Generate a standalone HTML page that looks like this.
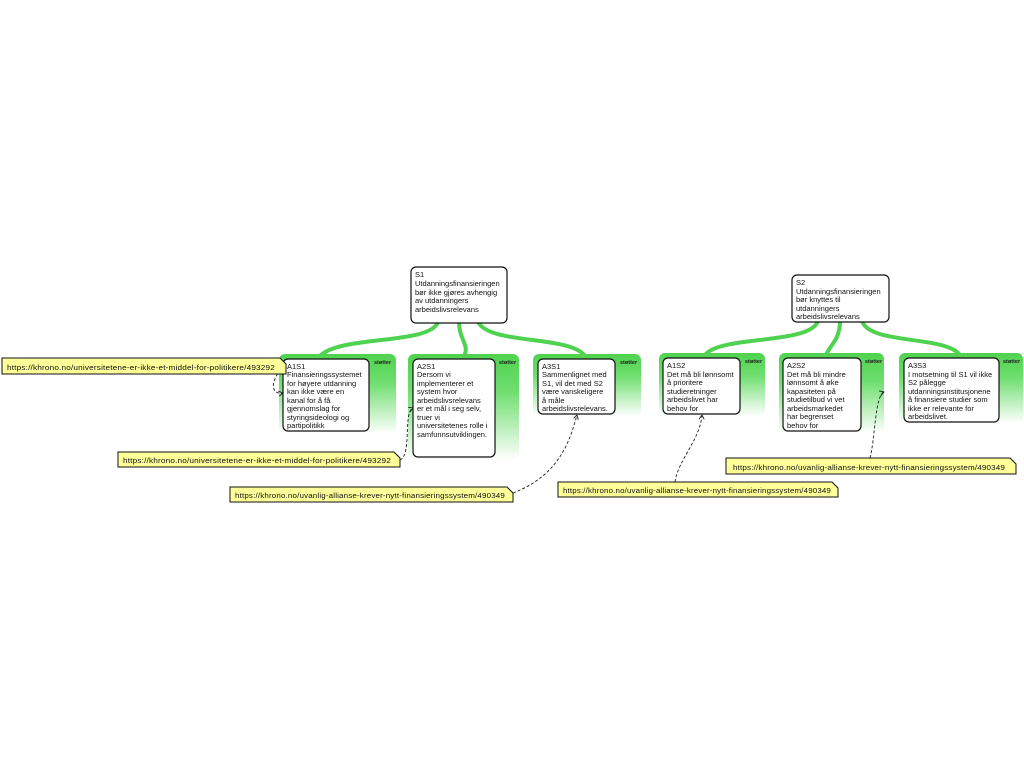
<!DOCTYPE html>
<html><head><meta charset="utf-8"><style>
html,body{margin:0;padding:0;background:#fff;width:1024px;height:768px;overflow:hidden}
svg text{font-family:"Liberation Sans",sans-serif}
.bt{font-size:7.5px;fill:#111}
.nt{font-size:7.6px;fill:#111;letter-spacing:0.15px}
.st{font-size:5.5px;fill:#222;font-weight:bold}
</style></head><body>
<svg width="1024" height="768" xmlns="http://www.w3.org/2000/svg">
<defs>
<linearGradient id="g" x1="0" y1="0" x2="0" y2="1">
<stop offset="0" stop-color="#4fd24f"/><stop offset="0.35" stop-color="#6ede6e"/><stop offset="1" stop-color="#ffffff"/>
</linearGradient>
<marker id="ar" markerWidth="6" markerHeight="6" refX="5" refY="3" orient="auto"><path d="M0,0 L5,3 L0,6" fill="none" stroke="#222" stroke-width="1"/></marker>
</defs>
<g fill="none" stroke="#4fd24f" stroke-width="4">
<path d="M438,322 C430,345 340,335 320,356"/>
<path d="M459,322 C459,340 470,345 464,356"/>
<path d="M478,322 C490,345 570,335 585,356"/>
<path d="M818,321 C810,345 720,335 705,355"/>
<path d="M840,321 C840,340 830,345 826,355"/>
<path d="M862,321 C870,345 945,335 960,355"/>
</g>
<g fill="url(#g)">
<rect x="279" y="354" width="117" height="80" rx="6"/>
<rect x="408" y="354" width="111" height="106" rx="6"/>
<rect x="533" y="354" width="108" height="62" rx="6"/>
<rect x="659" y="353" width="106" height="63" rx="6"/>
<rect x="779" y="353" width="105" height="80" rx="6"/>
<rect x="899" y="353" width="124" height="70" rx="6"/>
</g>
<g class="st">
<text x="374" y="364">støtter</text><text x="499" y="364">støtter</text><text x="620" y="364">støtter</text>
<text x="745" y="363">støtter</text><text x="865" y="363">støtter</text><text x="1003" y="363">støtter</text>
</g>
<g fill="#fff" stroke="#111" stroke-width="1.2">
<rect x="411" y="267" width="96" height="56" rx="5"/>
<rect x="792" y="275" width="97" height="47" rx="5"/>
<rect x="283" y="359" width="86" height="72" rx="5"/>
<rect x="413" y="359" width="82" height="98" rx="5"/>
<rect x="538" y="359" width="77" height="55" rx="5"/>
<rect x="663" y="358" width="77" height="56" rx="5"/>
<rect x="783" y="358" width="78" height="73" rx="5"/>
<rect x="904" y="358" width="95" height="64" rx="5"/>
</g>
<g class="bt">
<text x="415" y="277">S1</text><text x="415" y="286">Utdanningsfinansieringen</text><text x="415" y="295">bør ikke gjøres avhengig</text><text x="415" y="303">av utdanningers</text><text x="415" y="312">arbeidslivsrelevans</text>
<text x="796" y="285">S2</text><text x="796" y="294">Utdanningsfinansieringen</text><text x="796" y="302">bør knyttes til</text><text x="796" y="311">utdanningers</text><text x="796" y="319">arbeidslivsrelevans</text>
<text x="287" y="369">A1S1</text><text x="287" y="377">Finansieringssystemet</text><text x="287" y="386">for høyere utdanning</text><text x="287" y="394">kan ikke være en</text><text x="287" y="403">kanal for å få</text><text x="287" y="411">gjennomslag for</text><text x="287" y="420">styringsideologi og</text><text x="287" y="428">partipolitikk</text>
<text x="417" y="369">A2S1</text><text x="417" y="377">Dersom vi</text><text x="417" y="386">implementerer et</text><text x="417" y="394">system hvor</text><text x="417" y="403">arbeidslivsrelevans</text><text x="417" y="411">er et mål i seg selv,</text><text x="417" y="420">truer vi</text><text x="417" y="428">universitetenes rolle i</text><text x="417" y="437">samfunnsutviklingen.</text>
<text x="542" y="369">A3S1</text><text x="542" y="377">Sammenlignet med</text><text x="542" y="386">S1, vil det med S2</text><text x="542" y="394">være vanskeligere</text><text x="542" y="403">å måle</text><text x="542" y="411">arbeidslivsrelevans.</text>
<text x="667" y="368">A1S2</text><text x="667" y="377">Det må bli lønnsomt</text><text x="667" y="385">å prioritere</text><text x="667" y="394">studieretninger</text><text x="667" y="402">arbeidslivet har</text><text x="667" y="411">behov for</text>
<text x="787" y="368">A2S2</text><text x="787" y="377">Det må bli mindre</text><text x="787" y="385">lønnsomt å øke</text><text x="787" y="394">kapasiteten på</text><text x="787" y="402">studietilbud vi vet</text><text x="787" y="411">arbeidsmarkedet</text><text x="787" y="419">har begrenset</text><text x="787" y="428">behov for</text>
<text x="908" y="368">A3S3</text><text x="908" y="377">I motsetning til S1 vil ikke</text><text x="908" y="385">S2 pålegge</text><text x="908" y="394">utdanningsinstitusjonene</text><text x="908" y="402">å finansiere studier som</text><text x="908" y="411">ikke er relevante for</text><text x="908" y="419">arbeidslivet.</text>
</g>
<g fill="none" stroke="#222" stroke-width="0.9" stroke-dasharray="3,2" marker-end="url(#ar)">
<path d="M284,366 C270,380 270,395 283,393"/>
<path d="M400,460 C412,455 403,412 413,408"/>
<path d="M513,493 C560,475 570,440 577,415"/>
<path d="M675,482 C678,460 700,440 702,415"/>
<path d="M870,458 C875,440 875,395 884,392"/>
</g>
<g fill="#ffff99" stroke="#111" stroke-width="1">
<path d="M2,358 H280 L286,364 V374 H2 Z"/>
<path d="M118,452 H394 L400,458 V467 H118 Z"/>
<path d="M230,487 H507 L513,493 V502 H230 Z"/>
<path d="M558,482 H832 L838,488 V497 H558 Z"/>
<path d="M726,458 H1010 L1016,464 V474 H726 Z"/>
</g>
<g class="nt">
<text x="7" y="370" textLength="268" lengthAdjust="spacingAndGlyphs">https://khrono.no/universitetene-er-ikke-et-middel-for-politikere/493292</text>
<text x="123" y="463" textLength="268" lengthAdjust="spacingAndGlyphs">https://khrono.no/universitetene-er-ikke-et-middel-for-politikere/493292</text>
<text x="235" y="498" textLength="270" lengthAdjust="spacingAndGlyphs">https://khrono.no/uvanlig-allianse-krever-nytt-finansieringssystem/490349</text>
<text x="563" y="493" textLength="268" lengthAdjust="spacingAndGlyphs">https://khrono.no/uvanlig-allianse-krever-nytt-finansieringssystem/490349</text>
<text x="733" y="470" textLength="272" lengthAdjust="spacingAndGlyphs">https://khrono.no/uvanlig-allianse-krever-nytt-finansieringssystem/490349</text>
</g>
</svg>
</body></html>
